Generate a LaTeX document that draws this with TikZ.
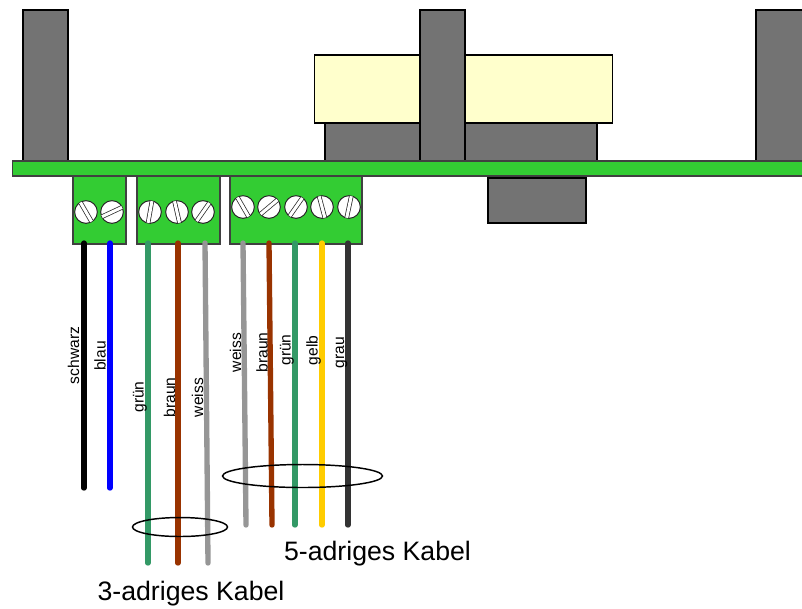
\documentclass[tikz,border=0pt]{standalone}
\usepackage{fontspec}
\setmainfont{Liberation Sans}
\definecolor{boardGreen}{HTML}{33CC33}
\definecolor{partGray}{HTML}{737373}
\definecolor{relayCream}{HTML}{FFFFCC}
\definecolor{wireGreen}{HTML}{339966}
\definecolor{wireBrown}{HTML}{993300}
\definecolor{wireGray}{HTML}{969696}
\definecolor{wireYellow}{HTML}{FFCC00}
\definecolor{wireDark}{HTML}{333333}
\usetikzlibrary{calc}
\tikzset{
  part/.style={draw=black, line width=1.1pt, fill=partGray},
  block/.style={draw=black!75, line width=0.8pt, fill=boardGreen},
  wire/.style={line width=4pt, line cap=round},
  bundle/.style={draw=black, line width=1.1pt},
  wirelabel/.style={rotate=90, anchor=base, inner sep=0pt, font=\fontsize{11.7}{13}\selectfont},
  cablelabel/.style={anchor=base, inner sep=0pt, font=\fontsize{20}{24}\selectfont},
  screwhead/.style={circle, draw=black!85, fill=white, line width=0.75pt, inner sep=0pt, minimum size=17pt},
  slot/.style={draw=black!85, line width=0.55pt, double=white, double distance=2.3pt}
}

\begin{document}
\begin{tikzpicture}[x=0.75pt, y=-0.75pt]
  \useasboundingbox (0,0) rectangle (802,608);
  \clip (0,0) rectangle (802,608);

  % relay and posts on top of the board
  \draw[part] (325,123) rectangle (597,161);
  \draw[draw=black, line width=1.1pt, fill=relayCream] (314.5,55) rectangle (612.5,123);
  \draw[part] (23,10) rectangle (68,161);
  \draw[part] (420,10) rectangle (465,161);
  \draw[part] (756,10) rectangle (812,161);

  % board
  \draw[draw=black!75, line width=0.8pt, fill=boardGreen] (12.5,161) rectangle (812,176);
  \draw[part] (488,178) rectangle (586,223);

  % terminal blocks
  \draw[block] (73,176) rectangle (126,244);
  \draw[block] (137,176) rectangle (220,244);
  \draw[block] (230,176) rectangle (362,244);

  % screws: name/x/y/slot angle
  \foreach \sname/\sx/\sy/\sa in {a/86/212/-120, b/112/212/-25, c/150/212/-80, d/177/212/-103, e/203/212/-55,
                                  f/243/207/-120, g/269/207/-40, h/296/207/-55, i/322/207/-105, j/349/207/-78} {
    \node[screwhead] (screw\sname) at (\sx,\sy) {};
    \draw[slot] ($(screw\sname)+(\sa:11)$) -- ($(screw\sname)+(\sa+180:11)$);
  }

  % wires, left block
  \draw[wire, black] (84,243) -- (84,488);
  \draw[wire, blue] (110,243) -- (110,488);
  % wires, 3-core cable
  \draw[wire, wireGreen] (148,243) -- (148,563);
  \draw[wire, wireBrown] (178,243) -- (178,563);
  \draw[wire, wireGray] (205,243) -- (208,563);
  % wires, 5-core cable
  \draw[wire, wireGray] (243,243) -- (246,525);
  \draw[wire, wireBrown] (269,243) -- (272,525);
  \draw[wire, wireGreen] (295,243) -- (295,525);
  \draw[wire, wireYellow] (322,243) -- (322,525);
  \draw[wire, wireDark] (348,243) -- (348,525);

  % wire labels
  \node[wirelabel] (lblSchwarz) at (79,355.5) {schwarz};
  \node[wirelabel] (lblBlau) at (105.5,356) {blau};
  \node[wirelabel] (lblGruenA) at (143.5,397) {grün};
  \node[wirelabel] (lblBraunA) at (175,397.5) {braun};
  \node[wirelabel] (lblWeissA) at (203,397.5) {weiss};
  \node[wirelabel] (lblWeissB) at (241,352.5) {weiss};
  \node[wirelabel] (lblBraunB) at (267.5,352.5) {braun};
  \node[wirelabel] (lblGruenB) at (290.5,350) {grün};
  \node[wirelabel] (lblGelb) at (317.5,350.5) {gelb};
  \node[wirelabel] (lblGrau) at (344,352.5) {grau};

  % cable rings
  \draw[bundle] (180,527) ellipse [x radius=47.5, y radius=9.5];
  \draw[bundle] (302.5,476) ellipse [x radius=80, y radius=11.5];

  \node[cablelabel] (lblKabelA) at (191,600.5) {3-adriges Kabel};
  \node[cablelabel] (lblKabelB) at (377.5,560) {5-adriges Kabel};
\end{tikzpicture}
\end{document}
